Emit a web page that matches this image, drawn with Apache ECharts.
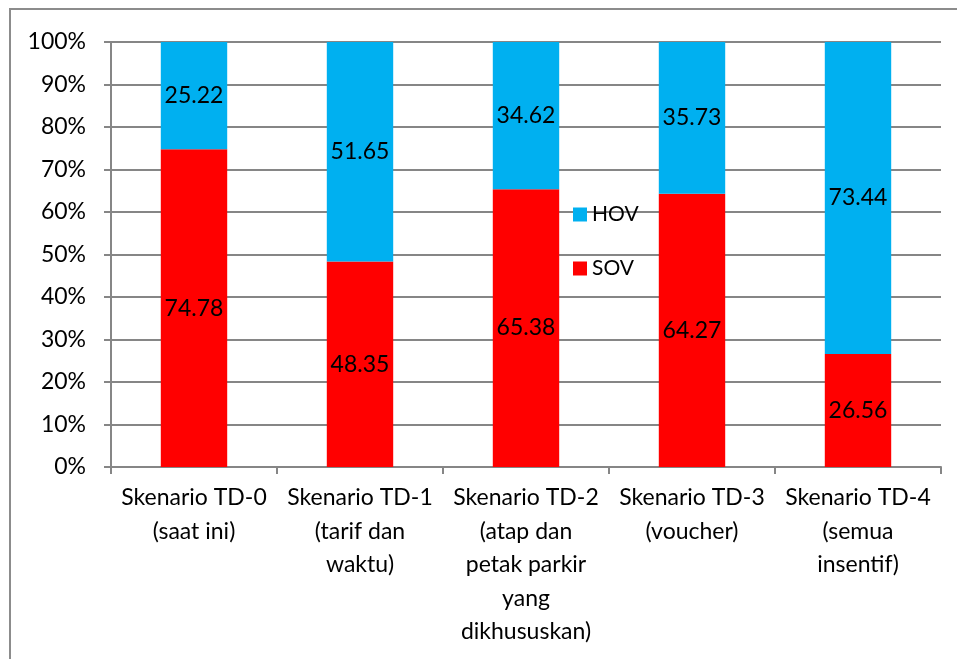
<!DOCTYPE html>
<html>
<head>
<meta charset="utf-8">
<script src="https://cdn.jsdelivr.net/npm/echarts@6/dist/echarts.min.js"></script>
<style>
html,body{margin:0;padding:0;background:#fff;}
#c{width:957px;height:659px;}
</style>
</head>
<body>
<div id="c"></div>
<script>
var categories = [
  "Skenario TD-0\n(saat ini)",
  "Skenario TD-1\n(tarif dan\nwaktu)",
  "Skenario TD-2\n(atap dan\npetak parkir\nyang\ndikhususkan)",
  "Skenario TD-3\n(voucher)",
  "Skenario TD-4\n(semua\ninsentif)"
];
var sov = [74.78, 48.35, 65.38, 64.27, 26.56];
var hov = [25.22, 51.65, 34.62, 35.73, 73.44];
var seriesNames = ["HOV", "SOV"];

var FONT = "Lato";
var chart = echarts.init(document.getElementById('c'), null, {renderer: 'canvas'});
var labelStyle = {
  show: true,
  position: 'inside',
  color: '#000',
  fontFamily: FONT,
  fontSize: 23,
  formatter: function (p) { return p.value.toFixed(2); }
};
chart.setOption({
  animation: false,
  backgroundColor: '#fff',
  textStyle: {fontFamily: FONT},
  graphic: [{
    type: 'rect',
    shape: {x: 10, y: 9, width: 1000, height: 700},
    style: {fill: 'none', stroke: '#8c8c8c', lineWidth: 2},
    silent: true
  }],
  grid: {left: 111, right: 16, top: 42, bottom: 192, containLabel: false},
  legend: {
    orient: 'vertical',
    left: 568,
    top: 199,
    itemWidth: 14,
    itemHeight: 14,
    itemGap: 33,
    icon: 'rect',
    data: seriesNames,
    textStyle: {fontFamily: FONT, fontSize: 21, color: '#000', lineHeight: 21}
  },
  xAxis: {
    type: 'category',
    data: categories,
    boundaryGap: true,
    axisLine: {lineStyle: {color: '#868686', width: 2}},
    axisTick: {show: true, length: 7, alignWithLabel: false, lineStyle: {color: '#868686', width: 2}},
    axisLabel: {
      interval: 0,
      fontFamily: FONT,
      fontSize: 23,
      color: '#000',
      lineHeight: 33.5,
      margin: 14,
      align: 'center'
    },
    splitLine: {show: false}
  },
  yAxis: {
    type: 'value',
    min: 0,
    max: 100,
    interval: 10,
    axisLine: {show: true, lineStyle: {color: '#868686', width: 2}},
    axisTick: {show: true, length: 7, inside: false, lineStyle: {color: '#868686', width: 2}},
    axisLabel: {
      formatter: '{value}%',
      fontFamily: FONT,
      fontSize: 23,
      color: '#000',
      margin: 25
    },
    splitLine: {show: true, lineStyle: {color: '#868686', width: 2}}
  },
  series: [
    {
      name: 'SOV',
      type: 'bar',
      stack: 'total',
      data: sov,
      barWidth: '40%',
      itemStyle: {color: '#FF0000'},
      label: labelStyle
    },
    {
      name: 'HOV',
      type: 'bar',
      stack: 'total',
      data: hov,
      barWidth: '40%',
      itemStyle: {color: '#00B0F0'},
      label: labelStyle
    }
  ]
});
</script>
</body>
</html>
